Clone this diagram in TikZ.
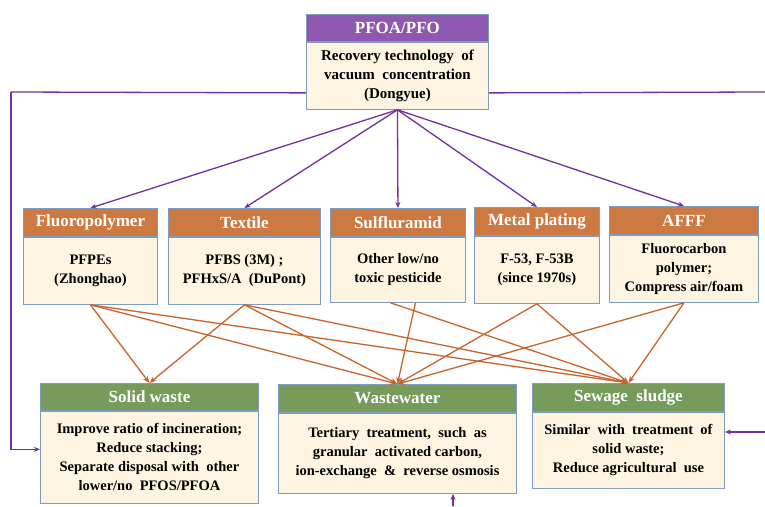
\documentclass[tikz,border=0pt]{standalone}
\usepackage{fontspec}
\setmainfont{Liberation Serif}
\usetikzlibrary{arrows.meta,calc}
\definecolor{purpH}{HTML}{8E58B0}
\definecolor{orngH}{HTML}{CD7942}
\definecolor{grnH}{HTML}{769B5B}
\definecolor{creamB}{HTML}{FDF5E1}
\definecolor{bordC}{HTML}{7E9CC0}
\definecolor{purpL}{HTML}{7030A0}
\definecolor{orngL}{HTML}{C8642A}
\tikzset{
  boxbase/.style={draw=bordC, line width=0.9pt, anchor=north west, inner sep=0pt, align=center},
  hdr/.style={boxbase, text=white, font=\bfseries\fontsize{17}{20}\selectfont},
  bdy/.style={boxbase, fill=creamB, text=black, font=\bfseries\fontsize{14.5}{19}\selectfont},
  parr/.style={draw=purpL, line width=1.3pt, -{Stealth[length=6pt,width=5pt]}},
  pline/.style={draw=purpL, line width=1.3pt},
  oarr/.style={draw=orngL, line width=1.3pt, -{Stealth[length=7pt,width=5.5pt]}},
}
\begin{document}
\begin{tikzpicture}[x=1pt,y=-1pt]
\useasboundingbox (0,0) rectangle (765,506);
% top box
\node[hdr, fill=purpH, minimum width=182pt, minimum height=27pt] (topH) at (306,14) {PFOA/PFO};
\node[bdy, font=\bfseries\fontsize{15}{19}\selectfont, minimum width=182pt, minimum height=67pt] (top) at (topH.south west) {Recovery technology\ \ of\\vacuum\ \ concentration\\(Dongyue)};
% middle boxes
\node[hdr, fill=orngH, minimum width=134pt, minimum height=28pt] (fluoH) at (23,208) {Fluoropolymer};
\node[bdy, minimum width=134pt, minimum height=67pt] (fluo) at (fluoH.south west) {PFPEs\\(Zhonghao)};
\node[hdr, fill=orngH, minimum width=152pt, minimum height=28pt] (texH) at (168,208) {Textile};
\node[bdy, minimum width=152pt, minimum height=67pt] (tex) at (texH.south west) {PFBS (3M) ;\\PFHxS/A\ \ (DuPont)};
\node[hdr, fill=orngH, minimum width=135pt, minimum height=28pt] (sulH) at (330,208) {Sulfluramid};
\node[bdy, minimum width=135pt, minimum height=65pt] (sul) at (sulH.south west) {Other low/no\\toxic pesticide};
\node[hdr, fill=orngH, minimum width=125pt, minimum height=28pt] (metH) at (474,207) {Metal plating};
\node[bdy, minimum width=125pt, minimum height=67pt] (met) at (metH.south west) {F-53, F-53B\\(since 1970s)};
\node[hdr, fill=orngH, minimum width=149pt, minimum height=28pt] (afH) at (609,206) {AFFF};
\node[bdy, minimum width=149pt, minimum height=67pt] (af) at (afH.south west) {Fluorocarbon\\polymer;\\Compress air/foam};
% bottom boxes
\node[hdr, fill=grnH, minimum width=218pt, minimum height=27pt] (solH) at (40,383) {Solid waste};
\node[bdy, minimum width=218pt, minimum height=92pt] (sol) at (solH.south west) {Improve ratio of incineration;\\Reduce stacking;\\Separate disposal with\ \ other\\lower/no\ \ PFOS/PFOA};
\node[hdr, fill=grnH, minimum width=238pt, minimum height=28pt] (wwH) at (278,384) {Wastewater};
\node[bdy, minimum width=238pt, minimum height=80pt] (ww) at (wwH.south west) {Tertiary\ \ treatment,\ \ such\ \ as\\granular\ \ activated carbon,\\ion-exchange\ \ \&\ \ reverse osmosis};
\node[hdr, fill=grnH, minimum width=192pt, minimum height=28pt] (sewH) at (532,383) {Sewage\ \ sludge};
\node[bdy, minimum width=192pt, minimum height=76pt] (sew) at (sewH.south west) {Similar\ \ with\ \ treatment\ \ of\\solid waste;\\Reduce agricultural\ \ use};
% purple arrows from top
\foreach \t in {fluoH,texH,sulH,metH,afH} \draw[parr] (top.south) -- (\t.north);
% orange arrows
\coordinate (sulL) at ($(sul.south)+(-7.5,0)$);
\coordinate (sulR) at ($(sul.south)+(17.5,0)$);
\draw[oarr] (fluo.south) -- (solH.north);
\draw[oarr] (fluo.south) -- (wwH.north);
\draw[oarr] (fluo.south) -- (sewH.north);
\draw[oarr] (tex.south) -- (solH.north);
\draw[oarr] (tex.south) -- (wwH.north);
\draw[oarr] (tex.south) -- (sewH.north);
\draw[oarr] (sulR) -- (wwH.north);
\draw[oarr] (sulL) -- (sewH.north);
\draw[oarr] (met.south) -- (wwH.north);
\draw[oarr] (met.south) -- (sewH.north);
\draw[oarr] (af.south) -- (wwH.north);
\draw[oarr] (af.south) -- (sewH.north);
% purple side connectors
\coordinate (topL) at ($(top.north west)+(0,51)$);
\coordinate (topR) at ($(top.north east)+(0,51)$);
\coordinate (lcorner) at (11,92);
\coordinate (rEdge) at (765,92);
\coordinate (solIn) at ($(sol.west)+(0,-8)$);
\draw[pline] (topL) -- (lcorner);
\draw[parr] (lcorner) |- (solIn);
\draw[pline] (topR) -- (rEdge);
\coordinate (sewSrc) at (765,432);
\coordinate (sewIn) at (sew.east |- sewSrc);
\draw[parr] (sewSrc) -- (sewIn);
\coordinate (wwSrc) at (453,506);
\coordinate (wwIn) at (ww.south -| wwSrc);
\draw[parr] (wwSrc) -- (wwIn);
\end{tikzpicture}
\end{document}
